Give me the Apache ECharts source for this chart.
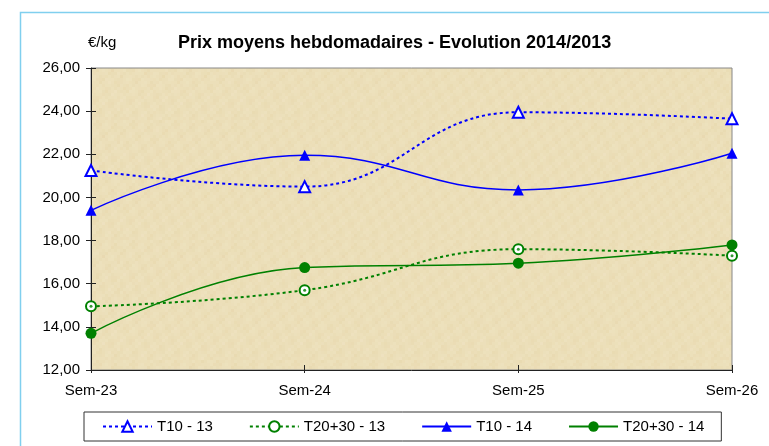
<!DOCTYPE html>
<html>
<head>
<meta charset="utf-8">
<script src="https://cdn.jsdelivr.net/npm/echarts@6/dist/echarts.min.js"></script>
<style>
html,body{margin:0;padding:0;background:#fff;}
#c{width:769px;height:446px;}
</style>
</head>
<body>
<div id="c"></div>
<script>
var categories = ['Sem-23', 'Sem-24', 'Sem-25', 'Sem-26'];
var seriesNames = ['T10 - 13', 'T20+30 - 13', 'T10 - 14', 'T20+30 - 14'];
var t10_13 = [21.25, 20.5, 23.95, 23.65];
var t2030_13 = [14.95, 15.7, 17.6, 17.3];
var t10_14 = [19.4, 21.95, 20.35, 22.05];
var t2030_14 = [13.7, 16.75, 16.95, 17.8];
var yMin = 12, yMax = 26, yStep = 2;

var FONT = 'Liberation Sans, Arial, sans-serif';

// subtle deterministic parchment texture
function makeTexture() {
  var cv = document.createElement('canvas');
  cv.width = 120; cv.height = 120;
  var ctx = cv.getContext('2d');
  ctx.fillStyle = '#ecdfb9';
  ctx.fillRect(0, 0, 120, 120);
  for (var y = 0; y < 120; y += 3) {
    for (var x = 0; x < 120; x += 3) {
      var v = Math.sin(x * 0.37 + y * 0.11) * Math.cos(y * 0.29 - x * 0.07) + Math.sin((x + y) * 0.9) * 0.4;
      var a = Math.abs(v) * 0.09;
      ctx.fillStyle = v > 0 ? 'rgba(255,250,235,' + a + ')' : 'rgba(215,185,120,' + a + ')';
      ctx.fillRect(x, y, 3, 3);
    }
  }
  return cv;
}

var chart = echarts.init(document.getElementById('c'), null, {renderer: 'canvas'});

var option = {
  backgroundColor: '#ffffff',
  animation: false,
  title: {
    text: 'Prix moyens hebdomadaires - Evolution 2014/2013',
    left: 178, top: 34, padding: 0,
    textStyle: {fontFamily: FONT, fontSize: 18, fontWeight: 'bold', color: '#000'}
  },
  graphic: [
    {type: 'rect', z: -10, shape: {x: 20.5, y: 12.5, width: 800, height: 500},
     style: {fill: 'none', stroke: '#80cfee', lineWidth: 1.5}},
    {type: 'text', x: 88, y: 43, style: {text: '€/kg', font: '15px ' + FONT, fill: '#000', textVerticalAlign: 'middle'}}
  ],
  legend: {
    data: seriesNames,
    left: 84, top: 412,
    padding: [7, 17, 7, 18],
    itemWidth: 49, itemHeight: 13, itemGap: 36,
    borderColor: '#333', borderWidth: 1,
    textStyle: {fontFamily: FONT, fontSize: 15, color: '#000'}
  },
  grid: {
    left: 91, right: 37, top: 68, bottom: 76,
    show: true,
    backgroundColor: {image: makeTexture(), repeat: 'repeat'},
    borderColor: '#888', borderWidth: 1
  },
  xAxis: [{
    type: 'category', data: categories, boundaryGap: false,
    axisLine: {lineStyle: {color: '#222', width: 1}},
    axisTick: {show: true, alignWithLabel: true, inside: true, length: 5, lineStyle: {color: '#222'}},
    axisLabel: {fontFamily: FONT, fontSize: 15, color: '#000', margin: 13},
    splitLine: {show: false}
  }, {
    type: 'category', data: categories, boundaryGap: false, position: 'bottom',
    axisLine: {show: false},
    axisTick: {show: true, inside: false, length: 3, lineStyle: {color: '#222'}},
    axisLabel: {show: false}, splitLine: {show: false}
  }],
  yAxis: [{
    type: 'value', min: yMin, max: yMax, interval: yStep,
    axisLine: {show: true, lineStyle: {color: '#222', width: 1}},
    axisTick: {show: true, inside: false, length: 5, lineStyle: {color: '#222'}},
    axisLabel: {fontFamily: FONT, fontSize: 15, color: '#000', margin: 11,
      formatter: function (v) { return v.toFixed(2).replace('.', ','); }},
    splitLine: {show: false}
  }, {
    type: 'value', min: yMin, max: yMax, interval: yStep, position: 'left',
    axisLine: {show: false},
    axisTick: {show: true, inside: true, length: 5, lineStyle: {color: '#222'}},
    axisLabel: {show: false}, splitLine: {show: false}
  }],
  series: [
    {name: seriesNames[0], type: 'line', data: t10_13, smooth: 0.45,
     symbol: 'emptyTriangle', symbolSize: 11,
     lineStyle: {color: '#0000ff', width: 2, type: [3, 3]},
     itemStyle: {color: '#0000ff', borderColor: '#0000ff', borderWidth: 1.5}},
    {name: seriesNames[1], type: 'line', data: t2030_13, smooth: 0.45,
     symbol: 'emptyCircle', symbolSize: 10,
     lineStyle: {color: '#008000', width: 2, type: [3, 3]},
     itemStyle: {color: '#008000', borderColor: '#008000', borderWidth: 1.2}},
    {name: seriesNames[1] + ' dot', type: 'scatter', data: t2030_13,
     symbol: 'circle', symbolSize: 3, z: 5, silent: true,
     itemStyle: {color: '#008000'}},
    {name: seriesNames[2], type: 'line', data: t10_14, smooth: 0.45,
     symbol: 'triangle', symbolSize: 11,
     lineStyle: {color: '#0000ff', width: 1.5},
     itemStyle: {color: '#0000ff'}},
    {name: seriesNames[3], type: 'line', data: t2030_14, smooth: 0.45,
     symbol: 'circle', symbolSize: 11,
     lineStyle: {color: '#008000', width: 1.5},
     itemStyle: {color: '#008000'}}
  ]
};
chart.setOption(option);
</script>
</body>
</html>
